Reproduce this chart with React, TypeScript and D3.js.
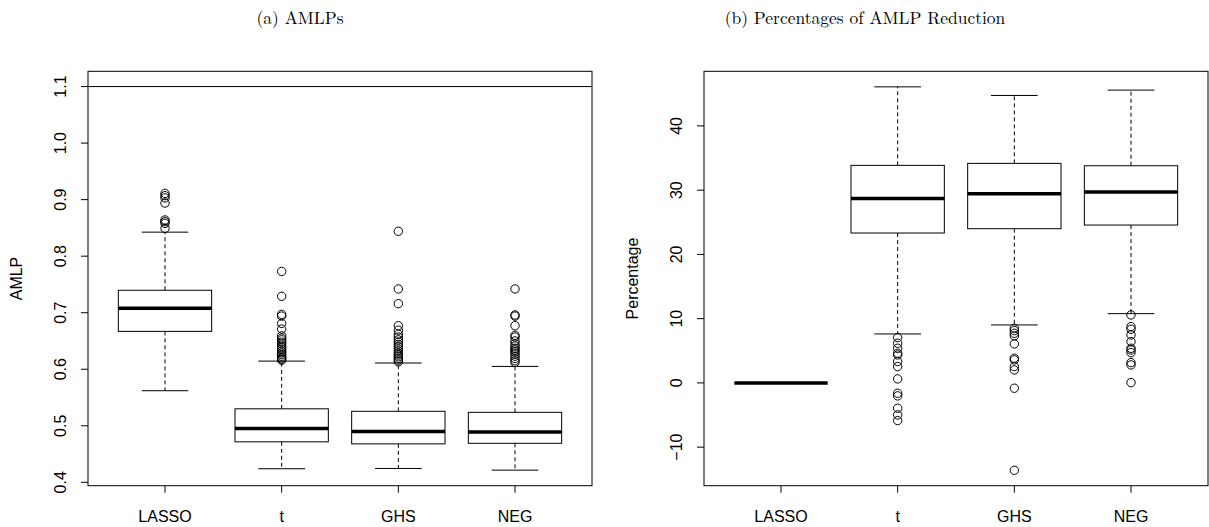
import React from "react";
import * as d3 from "d3";

const categories = ["LASSO", "t", "GHS", "NEG"];

// Panel (a): AMLPs
const amlpLower = [0.562, 0.424, 0.4245, 0.4215];
const amlpQ1 = [0.667, 0.4716, 0.468, 0.469];
const amlpMedian = [0.708, 0.495, 0.49, 0.489];
const amlpQ3 = [0.7397, 0.53, 0.5256, 0.5238];
const amlpUpper = [0.8425, 0.6144, 0.611, 0.605];
const amlpOutLASSO = [0.849, 0.858, 0.861, 0.864, 0.894, 0.903, 0.907, 0.911];
const amlpOutT = [0.773, 0.729, 0.697, 0.694, 0.681, 0.671, 0.659, 0.655, 0.652, 0.648, 0.645, 0.641, 0.638, 0.635, 0.632, 0.629, 0.626, 0.623, 0.62, 0.618, 0.616];
const amlpOutGHS = [0.844, 0.742, 0.716, 0.677, 0.669, 0.662, 0.657, 0.652, 0.648, 0.644, 0.64, 0.636, 0.632, 0.628, 0.625, 0.622, 0.619, 0.616, 0.613];
const amlpOutNEG = [0.742, 0.696, 0.694, 0.677, 0.66, 0.657, 0.65, 0.645, 0.641, 0.637, 0.634, 0.631, 0.627, 0.623, 0.619, 0.615, 0.612];
const amlpTicks = [0.4, 0.5, 0.6, 0.7, 0.8, 0.9, 1.0, 1.1];
const amlpRefLine = 1.1;

// Panel (b): Percentages of AMLP Reduction
const pctLower = [0, 7.62, 9.02, 10.78];
const pctQ1 = [0, 23.33, 24.0, 24.57];
const pctMedian = [0, 28.72, 29.44, 29.7];
const pctQ3 = [0, 33.86, 34.17, 33.8];
const pctUpper = [0, 46.08, 44.74, 45.57];
const pctOutLASSO: number[] = [];
const pctOutT = [7.05, 6.17, 5.39, 4.61, 4.35, 3.32, 2.54, 0.62, -1.61, -2.02, -3.94, -4.98, -5.86];
const pctOutGHS = [8.5, 8.14, 7.72, 7.31, 6.07, 3.84, 3.58, 2.54, 2.02, -0.83, -13.6];
const pctOutNEG = [10.58, 8.76, 8.35, 7.46, 6.43, 5.39, 5.13, 4.71, 3.16, 2.8, 0.05];
const pctTicks = [-10, 0, 10, 20, 30, 40];

const SANS = "'Liberation Sans', Arial, Helvetica, sans-serif";
const SERIF = "'Latin Modern Roman', 'CMU Serif', 'DejaVu Serif', serif";

type PanelProps = {
  x0: number;
  x1: number;
  yDomain: [number, number];
  lower: number[];
  q1: number[];
  median: number[];
  q3: number[];
  upper: number[];
  outliers: number[][];
  ticks: number[];
  tickFmt: (v: number) => string;
  ylabel: string;
  ylabelX: number;
  refLine?: number;
};

const TOP = 71.3;
const BOTTOM = 485.7;

function Panel(p: PanelProps) {
  const x = d3.scaleLinear().domain([0.34, 4.66]).range([p.x0, p.x1]);
  const y = d3.scaleLinear().domain(p.yDomain).range([BOTTOM, TOP]);
  const unit = x(1) - x(0);
  const halfBox = 0.4 * unit;
  const halfCap = 0.2 * unit;
  return (
    <g>
      {p.refLine !== undefined && (
        <line x1={p.x0} x2={p.x1} y1={y(p.refLine)} y2={y(p.refLine)} stroke="#000" strokeWidth={1} />
      )}
      {categories.map((c, i) => {
        const cx = x(i + 1);
        return (
          <g key={c}>
            <line x1={cx} x2={cx} y1={y(p.q3[i])} y2={y(p.upper[i])} stroke="#000" strokeWidth={1} strokeDasharray="4,3" />
            <line x1={cx} x2={cx} y1={y(p.q1[i])} y2={y(p.lower[i])} stroke="#000" strokeWidth={1} strokeDasharray="4,3" />
            <line x1={cx - halfCap} x2={cx + halfCap} y1={y(p.upper[i])} y2={y(p.upper[i])} stroke="#000" strokeWidth={1} />
            <line x1={cx - halfCap} x2={cx + halfCap} y1={y(p.lower[i])} y2={y(p.lower[i])} stroke="#000" strokeWidth={1} />
            <rect x={cx - halfBox} y={y(p.q3[i])} width={2 * halfBox} height={Math.max(0, y(p.q1[i]) - y(p.q3[i]))} fill="#fff" stroke="#000" strokeWidth={1} />
            <line x1={cx - halfBox} x2={cx + halfBox} y1={y(p.median[i])} y2={y(p.median[i])} stroke="#000" strokeWidth={3.5} />
            {p.outliers[i].map((v, j) => (
              <circle key={j} cx={cx} cy={y(v)} r={4.2} fill="none" stroke="#000" strokeWidth={1} />
            ))}
          </g>
        );
      })}
      <rect x={p.x0} y={TOP} width={p.x1 - p.x0} height={BOTTOM - TOP} fill="none" stroke="#000" strokeWidth={1} />
      {p.ticks.map((t) => (
        <g key={t}>
          <line x1={p.x0 - 7} x2={p.x0} y1={y(t)} y2={y(t)} stroke="#000" strokeWidth={1} />
          <text
            transform={`translate(${p.x0 - 22},${y(t)}) rotate(-90)`}
            textAnchor="middle"
            fontFamily={SANS}
            fontSize={16}
          >
            {p.tickFmt(t)}
          </text>
        </g>
      ))}
      {categories.map((c, i) => (
        <g key={c}>
          <line x1={x(i + 1)} x2={x(i + 1)} y1={BOTTOM} y2={BOTTOM + 7} stroke="#000" strokeWidth={1} />
          <text x={x(i + 1)} y={522} textAnchor="middle" fontFamily={SANS} fontSize={16}>
            {c}
          </text>
        </g>
      ))}
      <text
        transform={`translate(${p.ylabelX},${(TOP + BOTTOM) / 2}) rotate(-90)`}
        textAnchor="middle"
        fontFamily={SANS}
        fontSize={16}
      >
        {p.ylabel}
      </text>
    </g>
  );
}

export default function App() {
  const fmt1 = d3.format(".1f");
  const fmtPct = (v: number) => (v < 0 ? "\u2212" + Math.abs(v) : String(v));
  return (
    <svg
      width={1209}
      height={527}
      style={{ position: "absolute", left: 0, top: 0, background: "#fff" }}
    >
      <rect width={1209} height={527} fill="#fff" />
      <text x={300} y={24} textAnchor="middle" fontFamily={SERIF} fontSize={17.5}>
        (a) AMLPs
      </text>
      <text x={865} y={24} textAnchor="middle" fontFamily={SERIF} fontSize={17.5}>
        (b) Percentages of AMLP Reduction
      </text>
      <Panel
        x0={88}
        x1={592}
        yDomain={[0.394, 1.127]}
        lower={amlpLower}
        q1={amlpQ1}
        median={amlpMedian}
        q3={amlpQ3}
        upper={amlpUpper}
        outliers={[amlpOutLASSO, amlpOutT, amlpOutGHS, amlpOutNEG]}
        ticks={amlpTicks}
        tickFmt={(v) => fmt1(v)}
        ylabel="AMLP"
        ylabelX={22}
        refLine={amlpRefLine}
      />
      <Panel
        x0={704}
        x1={1208}
        yDomain={[-16.0, 48.5]}
        lower={pctLower}
        q1={pctQ1}
        median={pctMedian}
        q3={pctQ3}
        upper={pctUpper}
        outliers={[pctOutLASSO, pctOutT, pctOutGHS, pctOutNEG]}
        ticks={pctTicks}
        tickFmt={fmtPct}
        ylabel="Percentage"
        ylabelX={638}
      />
    </svg>
  );
}
